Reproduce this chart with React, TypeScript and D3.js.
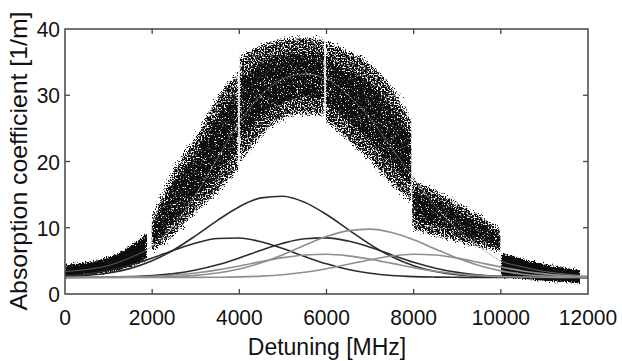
import React from "react";
import * as d3 from "d3";

const W = 622;
const H = 361;
const M = { left: 65, right: 34, top: 29, bottom: 67 };

const xTicks = [0, 2000, 4000, 6000, 8000, 10000, 12000];
const yTicks = [0, 10, 20, 30, 40];

// sample grid for the fitted curves (MHz)
const detuning = [0, 500, 1000, 1500, 2000, 2500, 3000, 3500, 4000, 4500, 5000, 5500, 6000,
  6500, 7000, 7500, 8000, 8500, 9000, 9500, 10000, 10500, 11000, 11500, 12000];

// black components
const peakA = [2.62, 2.81, 3.18, 3.87, 5.02, 6.68, 8.81, 11.12, 13.18, 14.51, 14.75, 13.83, 12.0,
  9.73, 7.49, 5.62, 4.27, 3.41, 2.93, 2.68, 2.57, 2.53, 2.51, 2.5, 2.5];
const peakB = [2.74, 3.03, 3.55, 4.35, 5.42, 6.62, 7.7, 8.38, 8.45, 7.88, 6.86, 5.66, 4.55,
  3.69, 3.12, 2.79, 2.62, 2.55, 2.52, 2.5, 2.5, 2.5, 2.5, 2.5, 2.5];
const peakC = [2.5, 2.52, 2.54, 2.62, 2.77, 3.08, 3.61, 4.4, 5.44, 6.61, 7.66, 8.35, 8.47,
  7.99, 7.06, 5.9, 4.79, 3.89, 3.26, 2.87, 2.67, 2.57, 2.52, 2.51, 2.5];
// gray components
const peakD = [2.5, 2.5, 2.51, 2.52, 2.55, 2.63, 2.81, 3.16, 3.77, 4.7, 5.94, 7.35, 8.67,
  9.56, 9.79, 9.27, 8.18, 6.79, 5.42, 4.29, 3.49, 2.99, 2.72, 2.59, 2.53];
const peakE = [2.5, 2.51, 2.53, 2.58, 2.68, 2.87, 3.18, 3.64, 4.23, 4.89, 5.49, 5.89, 5.99,
  5.76, 5.26, 4.62, 3.98, 3.43, 3.04, 2.78, 2.63, 2.56, 2.52, 2.51, 2.5];
const peakF = [2.5, 2.5, 2.5, 2.5, 2.5, 2.5, 2.51, 2.53, 2.58, 2.7, 2.91, 3.28, 3.81,
  4.48, 5.17, 5.73, 5.99, 5.88, 5.42, 4.76, 4.07, 3.47, 3.04, 2.77, 2.62];
// overall fit through the measured points
const fitCurve = [3.4, 3.7, 4.3, 5.5, 7.2, 10.5, 15, 20.5, 26, 30, 32.5, 33.2, 32.5,
  30, 26.5, 22, 17.5, 13.2, 9.8, 7.2, 5.0, 4.1, 3.4, 3.0, 2.7];

// measured point cloud, one scan per 2 GHz window: x, upper and lower edge
const seg1X = [0, 500, 1000, 1500, 1880];
const seg1Hi = [4.4, 4.8, 5.5, 7.2, 9.1];
const seg1Lo = [2.6, 2.9, 3.3, 4.1, 5.4];
const seg2X = [1990, 2500, 3000, 3500, 3975];
const seg2Hi = [11.2, 18.5, 23.5, 29.5, 33.5];
const seg2Lo = [6.5, 9.0, 12.5, 15.5, 19.0];
const seg3X = [4010, 4500, 5000, 5500, 5950];
const seg3Hi = [35.8, 37.4, 38.4, 38.6, 38.3];
const seg3Lo = [20, 24, 26.5, 27.3, 27];
const seg4X = [5985, 6500, 7000, 7500, 7945];
const seg4Hi = [38.1, 36.6, 34.6, 31, 26];
const seg4Lo = [26.3, 23.3, 20.3, 16.7, 14];
const seg5X = [7965, 8500, 9000, 9500, 9990];
const seg5Hi = [17.3, 15.5, 13.7, 11.8, 9.6];
const seg5Lo = [9.9, 8.9, 8.0, 7.2, 6.4];
const seg6X = [10000, 10500, 11000, 11500, 11820];
const seg6Hi = [6.2, 5.3, 4.5, 3.9, 3.6];
const seg6Lo = [2.6, 2.3, 2.0, 1.8, 1.6];

const segments = [
  { xs: seg1X, hi: seg1Hi, lo: seg1Lo, dense: true },
  { xs: seg2X, hi: seg2Hi, lo: seg2Lo, dense: false },
  { xs: seg3X, hi: seg3Hi, lo: seg3Lo, dense: false },
  { xs: seg4X, hi: seg4Hi, lo: seg4Lo, dense: false },
  { xs: seg5X, hi: seg5Hi, lo: seg5Lo, dense: false },
  { xs: seg6X, hi: seg6Hi, lo: seg6Lo, dense: true },
];

const components = [
  { ys: peakA, color: "#2b2b2b" },
  { ys: peakB, color: "#2b2b2b" },
  { ys: peakC, color: "#2b2b2b" },
  { ys: peakD, color: "#8e8e8e" },
  { ys: peakE, color: "#8e8e8e" },
  { ys: peakF, color: "#8e8e8e" },
];

function Speckle({ id, freq, scale, seed, grain, bias }: { id: string; freq: number; scale: number; seed: number; grain: number; bias: number }) {
  return (
    <filter id={id} x="-0.2" y="-0.3" width="1.4" height="1.6">
      <feTurbulence type="fractalNoise" baseFrequency={freq} numOctaves={1} seed={seed} result="n1" />
      <feDisplacementMap in="SourceGraphic" in2="n1" scale={scale} xChannelSelector="R" yChannelSelector="G" result="d" />
      <feTurbulence type="fractalNoise" baseFrequency={grain} numOctaves={1} seed={seed + 13} result="n2" />
      <feColorMatrix in="n2" type="matrix" values={`0 0 0 0 0  0 0 0 0 0  0 0 0 0 0  -8 0 0 0 ${bias}`} result="m" />
      <feComposite in="d" in2="m" operator="in" />
    </filter>
  );
}

export default function App() {
  const x = d3.scaleLinear().domain([0, 12000]).range([M.left, W - M.right]);
  const y = d3.scaleLinear().domain([0, 40]).range([H - M.bottom, M.top]);

  const area = d3
    .area<[number, number, number]>()
    .x((d) => x(d[0]))
    .y0((d) => y(d[2]))
    .y1((d) => y(d[1]))
    .curve(d3.curveMonotoneX);

  const line = d3
    .line<number>()
    .x((d, i) => x(detuning[i]))
    .y((d) => y(d))
    .curve(d3.curveMonotoneX);

  const font = "'Liberation Sans', Arial, sans-serif";
  const x0 = M.left;
  const x1 = W - M.right;
  const y0 = H - M.bottom;
  const y1 = M.top;

  return (
    <svg width={W} height={H} style={{ position: "absolute", left: 0, top: 0, background: "#fff" }}>
      <defs>
        <Speckle id="sparse" freq={0.9} scale={16} seed={2} grain={0.7} bias={5.0} />
        <Speckle id="core" freq={0.9} scale={14} seed={31} grain={0.7} bias={5.0} />
        <Speckle id="solid" freq={0.9} scale={8} seed={5} grain={0.8} bias={7} />
        {segments.map((s, i) => (
          <clipPath key={i} id={"seg" + i}>
            <rect x={x(s.xs[0])} y={0} width={x(s.xs[s.xs.length - 1]) - x(s.xs[0])} height={y0 + 6} />
          </clipPath>
        ))}
      </defs>

      {segments.map((s, i) => {
        const pts = s.xs.map((v, k) => [v, s.hi[k], s.lo[k]] as [number, number, number]);
        const inner = s.xs.map((v, k) => {
          const w = s.hi[k] - s.lo[k];
          return [v, s.hi[k] - 0.2 * w, s.lo[k] + 0.2 * w] as [number, number, number];
        });
        return (
          <g key={i} clipPath={`url(#seg${i})`}>
            <path d={area(pts) || ""} fill="#111" filter={s.dense ? "url(#solid)" : "url(#sparse)"} />
            {!s.dense && <path d={area(inner) || ""} fill="#111" filter="url(#core)" />}
          </g>
        );
      })}

      <path d={line(fitCurve) || ""} fill="none" stroke="#9a9a9a" strokeWidth={1} strokeOpacity={0.6} />
      {components.map((c, i) => (
        <path key={i} d={line(c.ys) || ""} fill="none" stroke={c.color} strokeWidth={1.6} />
      ))}

      {/* axes box */}
      <rect x={x0} y={y1} width={x1 - x0} height={y0 - y1} fill="none" stroke="#444" strokeWidth={1.5} />
      {xTicks.slice(1, -1).map((t) => (
        <g key={"xt" + t}>
          <line x1={x(t)} x2={x(t)} y1={y0} y2={y0 - 5} stroke="#444" strokeWidth={1.3} />
          <line x1={x(t)} x2={x(t)} y1={y1} y2={y1 + 5} stroke="#444" strokeWidth={1.3} />
        </g>
      ))}
      {yTicks.slice(1, -1).map((t) => (
        <g key={"yt" + t}>
          <line x1={x0} x2={x0 + 5} y1={y(t)} y2={y(t)} stroke="#444" strokeWidth={1.3} />
          <line x1={x1} x2={x1 - 5} y1={y(t)} y2={y(t)} stroke="#444" strokeWidth={1.3} />
        </g>
      ))}

      {xTicks.map((t) => (
        <text key={"xl" + t} transform={`translate(${x(t)},325) scale(1,1.08)`} textAnchor="middle"
          fontFamily={font} fontSize={21} fill="#111">
          {t}
        </text>
      ))}
      {yTicks.map((t) => (
        <text key={"yl" + t} transform={`translate(60,${y(t)}) scale(1,1.08)`} textAnchor="end" dy="0.36em"
          fontFamily={font} fontSize={21} fill="#111">
          {t}
        </text>
      ))}
      <text transform="translate(327,355) scale(1,1.08)" textAnchor="middle" fontFamily={font} fontSize={23} fill="#111">
        Detuning [MHz]
      </text>
      <text transform="translate(27,161) scale(1,1.08) rotate(-90)" textAnchor="middle" fontFamily={font}
        fontSize={23} fill="#111">
        Absorption coefficient [1/m]
      </text>
    </svg>
  );
}
